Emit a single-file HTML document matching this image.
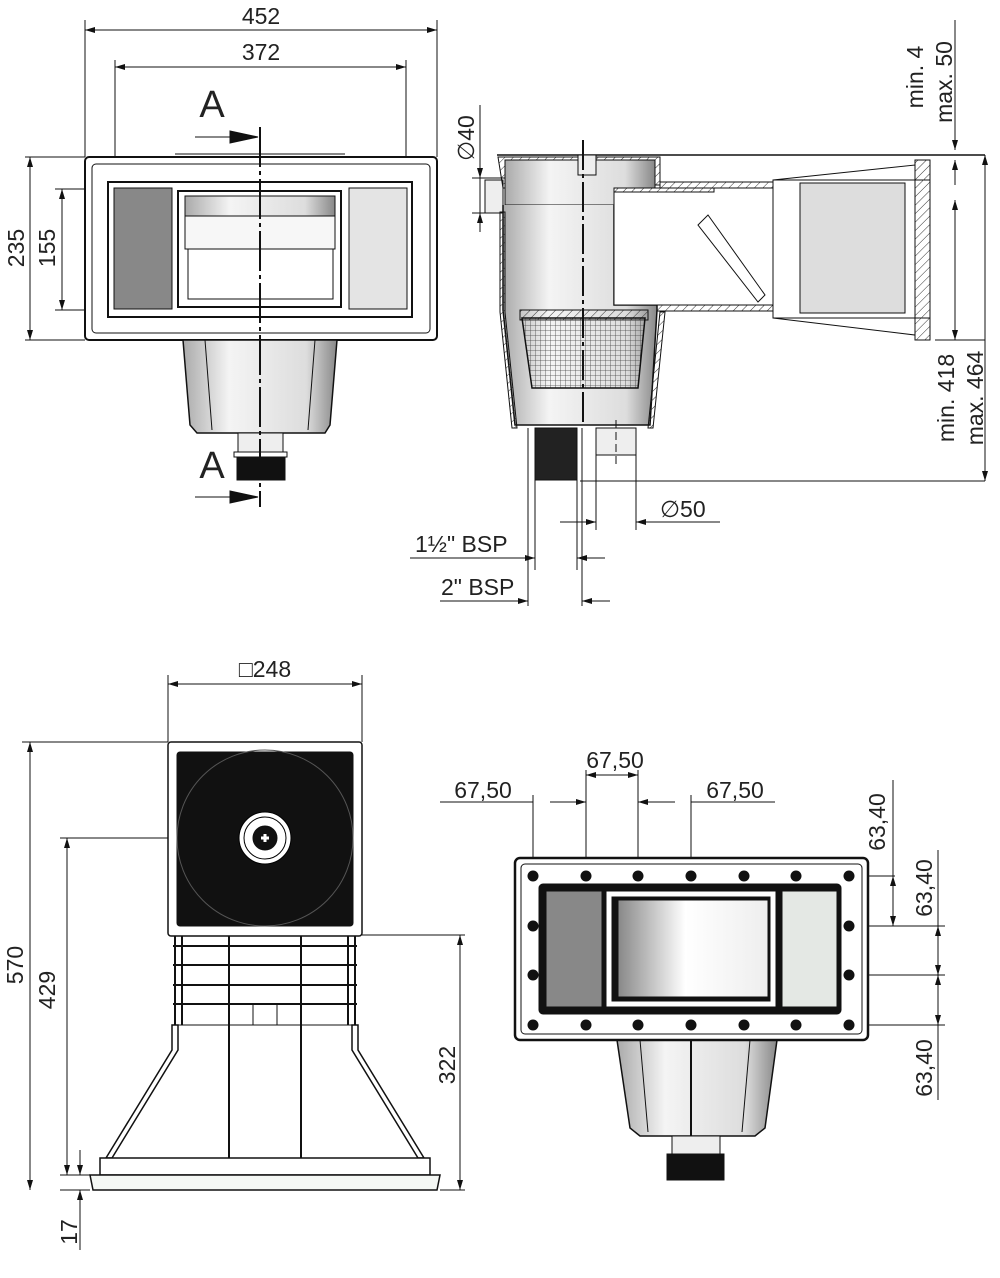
<!DOCTYPE html>
<html><head><meta charset="utf-8"><style>
html,body{margin:0;padding:0;background:#fff}
svg{display:block}
text{font-family:"Liberation Sans",sans-serif;fill:#222}
</style></head><body>
<svg width="1000" height="1278" viewBox="0 0 1000 1278" xmlns="http://www.w3.org/2000/svg">
<defs>
<marker id="a" viewBox="0 0 10 6" refX="10" refY="3" markerWidth="10" markerHeight="6" orient="auto-start-reverse" markerUnits="userSpaceOnUse"><path d="M0,0L10,3L0,6z" fill="#111"/></marker>
<linearGradient id="g" x1="0" x2="1"><stop offset="0" stop-color="#888"/><stop offset=".45" stop-color="#fff"/><stop offset="1" stop-color="#eee"/></linearGradient>
<linearGradient id="g2" x1="0" x2="1"><stop offset="0" stop-color="#aaa"/><stop offset=".3" stop-color="#f4f4f4"/><stop offset=".8" stop-color="#ddd"/><stop offset="1" stop-color="#888"/></linearGradient>
<pattern id="h" width="6" height="6" patternUnits="userSpaceOnUse" patternTransform="rotate(45)"><line x1="0" y1="0" x2="0" y2="6" stroke="#333" stroke-width="1"/></pattern>
<pattern id="m" width="5" height="5" patternUnits="userSpaceOnUse"><path d="M0,0H5M0,0V5" stroke="#444" stroke-width=".8" fill="none"/></pattern>
</defs>
<g stroke="#111" stroke-width="1" fill="none">
<line x1="85" y1="20" x2="85" y2="157"/><line x1="437" y1="20" x2="437" y2="157"/>
<line x1="85" y1="30" x2="437" y2="30" marker-start="url(#a)" marker-end="url(#a)"/>
<line x1="115" y1="60" x2="115" y2="185"/><line x1="406" y1="60" x2="406" y2="185"/>
<line x1="115" y1="67" x2="406" y2="67" marker-start="url(#a)" marker-end="url(#a)"/>
<line x1="25" y1="157" x2="85" y2="157"/><line x1="25" y1="340" x2="85" y2="340"/>
<line x1="30" y1="157" x2="30" y2="340" marker-start="url(#a)" marker-end="url(#a)"/>
<line x1="55" y1="189" x2="115" y2="189"/><line x1="55" y1="310" x2="115" y2="310"/>
<line x1="62" y1="189" x2="62" y2="310" marker-start="url(#a)" marker-end="url(#a)"/>
<rect x="85" y="157" width="352" height="183" rx="4" stroke-width="2" fill="#fff"/>
<rect x="92" y="164" width="338" height="169" rx="4"/>
<rect x="108" y="182" width="304" height="135" stroke-width="2"/>
<rect x="114" y="188" width="58" height="121" fill="#888"/>
<rect x="349" y="188" width="58" height="121" fill="#e4e4e4"/>
<rect x="178" y="191" width="163" height="116" stroke-width="2" fill="#fff"/>
<rect x="185" y="196" width="150" height="20" fill="url(#g2)"/>
<rect x="185" y="216" width="150" height="33" fill="#f7f7f7"/>
<rect x="188" y="249" width="145" height="50" fill="#fff"/>
<line x1="175" y1="154" x2="345" y2="154"/>
<path d="M183,340L337,340L330,425L325,433L197,433L190,425Z" fill="url(#g2)" stroke-width="1.5"/>
<line x1="205" y1="340" x2="212" y2="430"/><line x1="315" y1="340" x2="308" y2="430"/>
<rect x="238" y="433" width="45" height="20" fill="#eee"/>
<rect x="234" y="452" width="53" height="5" fill="#fff"/>
<rect x="237" y="457" width="48" height="23" fill="#111"/>
<line x1="260" y1="127" x2="260" y2="507" stroke-width="2" stroke-dasharray="40,4,4,4"/>
<line x1="195" y1="137" x2="258" y2="137"/><path d="M230,131L258,137L230,143Z" fill="#111"/>
<line x1="195" y1="497" x2="258" y2="497"/><path d="M230,491L258,497L230,503Z" fill="#111"/>
<line x1="497" y1="155" x2="985" y2="155" stroke-width="1.5"/>
<line x1="480" y1="105" x2="480" y2="232"/>
<line x1="472" y1="178" x2="505" y2="178"/><line x1="472" y1="213" x2="505" y2="213"/>
<line x1="480" y1="160" x2="480" y2="178" marker-end="url(#a)"/><line x1="480" y1="232" x2="480" y2="213" marker-end="url(#a)"/>
<rect x="485" y="180" width="18" height="33" fill="#eee"/>
<path d="M498,157H660V185H655V205H614V188H503Z" fill="url(#h)"/>
<rect x="505" y="160" width="150" height="45" fill="url(#g2)"/>
<rect x="578" y="155" width="18" height="20" fill="#eee"/>
<path d="M503,205V310L515,425H650L657,310V305H614V205" fill="url(#g2)" stroke-width="1.5"/>
<path d="M500,212V312L512,428H517L505,312V212Z" fill="url(#h)"/>
<path d="M660,312L648,428H653L665,312Z" fill="url(#h)"/>
<rect x="520" y="310" width="128" height="10" fill="url(#h)"/>
<path d="M522,318H645L638,388H532Z" fill="url(#m)" stroke-width="1.5"/>
<rect x="614" y="188" width="160" height="117" fill="#fff"/>
<rect x="614" y="188" width="100" height="4" fill="url(#h)"/>
<rect x="660" y="182" width="114" height="6" fill="url(#h)"/>
<rect x="657" y="305" width="117" height="6" fill="url(#h)"/>
<path d="M698,225L708,215L765,295L758,302Z" fill="#fff"/>
<rect x="773" y="180" width="157" height="138" fill="#fff"/>
<rect x="800" y="183" width="105" height="130" fill="#ddd"/>
<path d="M773,180L915,165V195M773,318L915,335V318" />
<rect x="915" y="160" width="15" height="180" fill="url(#h)"/>
<line x1="583" y1="140" x2="583" y2="425" stroke-width="2" stroke-dasharray="30,4,4,4"/>
<rect x="535" y="428" width="42" height="52" fill="#222"/>
<path d="M528,428V482M582,428V482"/>
<rect x="596" y="428" width="40" height="27" fill="#eee"/>
<line x1="616" y1="420" x2="616" y2="465" stroke-dasharray="8,4"/>
<line x1="580" y1="481" x2="985" y2="481"/>
<line x1="935" y1="340" x2="985" y2="340"/>
<line x1="955" y1="20" x2="955" y2="150" marker-end="url(#a)"/><line x1="955" y1="185" x2="955" y2="160" marker-end="url(#a)"/>
<line x1="955" y1="200" x2="955" y2="340" marker-start="url(#a)" marker-end="url(#a)"/>
<line x1="985" y1="155" x2="985" y2="481" marker-start="url(#a)" marker-end="url(#a)"/>
<line x1="596" y1="455" x2="596" y2="530"/><line x1="636" y1="455" x2="636" y2="530"/>
<line x1="560" y1="522" x2="596" y2="522" marker-end="url(#a)"/>
<line x1="636" y1="522" x2="720" y2="522" marker-start="url(#a)"/>
<line x1="535" y1="480" x2="535" y2="570"/><line x1="577" y1="480" x2="577" y2="570"/>
<line x1="410" y1="558" x2="535" y2="558" marker-end="url(#a)"/><line x1="577" y1="558" x2="605" y2="558" marker-start="url(#a)"/>
<line x1="528" y1="482" x2="528" y2="606"/><line x1="582" y1="482" x2="582" y2="606"/>
<line x1="440" y1="601" x2="528" y2="601" marker-end="url(#a)"/><line x1="582" y1="601" x2="610" y2="601" marker-start="url(#a)"/>
<line x1="168" y1="675" x2="168" y2="742"/><line x1="362" y1="675" x2="362" y2="742"/>
<line x1="168" y1="684" x2="362" y2="684" marker-start="url(#a)" marker-end="url(#a)"/>
<line x1="22" y1="742" x2="168" y2="742"/><line x1="30" y1="742" x2="30" y2="1190" marker-start="url(#a)" marker-end="url(#a)"/>
<line x1="60" y1="838" x2="180" y2="838"/><line x1="67" y1="838" x2="67" y2="1175" marker-start="url(#a)" marker-end="url(#a)"/>
<line x1="60" y1="1175" x2="100" y2="1175"/><line x1="60" y1="1190" x2="90" y2="1190"/>
<line x1="80" y1="1150" x2="80" y2="1175" marker-end="url(#a)"/><line x1="80" y1="1250" x2="80" y2="1190" marker-end="url(#a)"/>
<line x1="362" y1="935" x2="465" y2="935"/><line x1="440" y1="1190" x2="465" y2="1190"/>
<line x1="460" y1="935" x2="460" y2="1190" marker-start="url(#a)" marker-end="url(#a)"/>
<rect x="168" y="742" width="194" height="194" rx="3" fill="#fff" stroke-width="1.5"/>
<rect x="177" y="752" width="176" height="174" rx="3" fill="#111"/>
<circle cx="265" cy="838" r="88" stroke="#555" stroke-width="1" fill="none"/>
<circle cx="265" cy="838" r="26" fill="#fff" stroke="#000"/>
<circle cx="265" cy="838" r="21" fill="#fff" stroke="#000"/>
<circle cx="265" cy="838" r="12" fill="#111"/>
<path d="M261,838h8M265,834v8" stroke="#fff" stroke-width="3"/>
<g stroke-width="2"><line x1="173" y1="946" x2="357" y2="946"/><line x1="173" y1="965" x2="357" y2="965"/><line x1="173" y1="985" x2="357" y2="985"/><line x1="173" y1="1004" x2="357" y2="1004"/>
<line x1="229" y1="936" x2="229" y2="1158"/><line x1="301" y1="936" x2="301" y2="1158"/>
<line x1="175" y1="936" x2="175" y2="1025"/><line x1="182" y1="936" x2="182" y2="1025"/><line x1="348" y1="936" x2="348" y2="1025"/><line x1="355" y1="936" x2="355" y2="1025"/></g>
<line x1="173" y1="1025" x2="357" y2="1025"/>
<path d="M253,1005V1025M277,1005V1025"/>
<path d="M172,1025H178V1050L112,1158H106L172,1050Z" fill="#fff" stroke-width="1.5"/>
<path d="M358,1025H352V1050L418,1158H424L358,1050Z" fill="#fff" stroke-width="1.5"/>
<rect x="100" y="1158" width="330" height="17" fill="#fff" stroke-width="1.5"/>
<path d="M90,1175H440L437,1190H93Z" fill="#f4f7f4" stroke-width="1.5"/>
<g>
<line x1="533" y1="795" x2="533" y2="876"/><line x1="586" y1="770" x2="586" y2="876"/><line x1="638" y1="770" x2="638" y2="876"/><line x1="691" y1="795" x2="691" y2="876"/>
<line x1="440" y1="802" x2="533" y2="802"/>
<line x1="550" y1="802" x2="586" y2="802" marker-end="url(#a)"/>
<line x1="586" y1="775" x2="638" y2="775" marker-start="url(#a)" marker-end="url(#a)"/>
<line x1="638" y1="802" x2="675" y2="802" marker-start="url(#a)"/><line x1="691" y1="802" x2="775" y2="802"/>
<line x1="849" y1="876" x2="895" y2="876"/><line x1="849" y1="926" x2="945" y2="926"/><line x1="849" y1="975" x2="945" y2="975"/><line x1="849" y1="1025" x2="945" y2="1025"/>
<line x1="893" y1="780" x2="893" y2="876" /><line x1="893" y1="926" x2="893" y2="876" marker-start="url(#a)" marker-end="url(#a)"/>
<line x1="938" y1="850" x2="938" y2="926"/><line x1="938" y1="926" x2="938" y2="975" marker-start="url(#a)" marker-end="url(#a)"/>
<line x1="938" y1="975" x2="938" y2="1025" marker-start="url(#a)" marker-end="url(#a)"/><line x1="938" y1="1025" x2="938" y2="1100"/>
</g>
<path d="M617,1040L777,1040L765,1128L755,1136H640L630,1128Z" fill="url(#g2)" stroke-width="1.5"/>
<line x1="640" y1="1040" x2="648" y2="1132"/><line x1="750" y1="1040" x2="742" y2="1132"/><line x1="691" y1="1040" x2="691" y2="1136" stroke-width="2"/>
<rect x="672" y="1136" width="48" height="18" fill="#eee"/>
<rect x="667" y="1154" width="57" height="26" fill="#111"/>
<rect x="515" y="858" width="353" height="182" rx="5" fill="#fff" stroke-width="2.5"/>
<rect x="521" y="864" width="341" height="170" rx="4"/>
<rect x="540" y="885" width="300" height="128" rx="3" stroke-width="3" fill="#111"/>
<rect x="546" y="891" width="56" height="116" fill="#888"/>
<rect x="782" y="891" width="55" height="116" fill="#e4e8e4"/>
<rect x="606" y="891" width="170" height="116" fill="#fff"/>
<rect x="612" y="897" width="158" height="104" fill="#111"/>
<rect x="618" y="900" width="150" height="97" fill="url(#g)"/>
<g fill="#111" stroke="none">
<circle cx="533" cy="876" r="5.5"/><circle cx="586" cy="876" r="5.5"/><circle cx="638" cy="876" r="5.5"/><circle cx="691" cy="876" r="5.5"/><circle cx="744" cy="876" r="5.5"/><circle cx="796" cy="876" r="5.5"/><circle cx="849" cy="876" r="5.5"/>
<circle cx="533" cy="1025" r="5.5"/><circle cx="586" cy="1025" r="5.5"/><circle cx="638" cy="1025" r="5.5"/><circle cx="691" cy="1025" r="5.5"/><circle cx="744" cy="1025" r="5.5"/><circle cx="796" cy="1025" r="5.5"/><circle cx="849" cy="1025" r="5.5"/>
<circle cx="533" cy="926" r="5.5"/><circle cx="533" cy="975" r="5.5"/><circle cx="849" cy="926" r="5.5"/><circle cx="849" cy="975" r="5.5"/>
</g>
</g>
<g font-size="23">
<text x="261" y="24" text-anchor="middle">452</text>
<text x="261" y="60" text-anchor="middle">372</text>
<text x="212" y="117" text-anchor="middle" font-size="38">A</text>
<text x="212" y="478" text-anchor="middle" font-size="38">A</text>
<text transform="translate(24,248) rotate(-90)" text-anchor="middle">235</text>
<text transform="translate(55,248) rotate(-90)" text-anchor="middle">155</text>
<text transform="translate(474,138) rotate(-90)" text-anchor="middle">∅40</text>
<text transform="translate(923,77) rotate(-90)" text-anchor="middle">min. 4</text>
<text transform="translate(952,82) rotate(-90)" text-anchor="middle">max. 50</text>
<text transform="translate(954,398) rotate(-90)" text-anchor="middle">min. 418</text>
<text transform="translate(983,398) rotate(-90)" text-anchor="middle">max. 464</text>
<text x="660" y="517">∅50</text>
<text x="415" y="552">1½" BSP</text>
<text x="441" y="595">2" BSP</text>
<text x="265" y="677" text-anchor="middle">□248</text>
<text transform="translate(23,965) rotate(-90)" text-anchor="middle">570</text>
<text transform="translate(55,990) rotate(-90)" text-anchor="middle">429</text>
<text transform="translate(77,1232) rotate(-90)" text-anchor="middle">17</text>
<text transform="translate(455,1065) rotate(-90)" text-anchor="middle">322</text>
<text x="483" y="798" text-anchor="middle">67,50</text>
<text x="615" y="768" text-anchor="middle">67,50</text>
<text x="735" y="798" text-anchor="middle">67,50</text>
<text transform="translate(885,822) rotate(-90)" text-anchor="middle">63,40</text>
<text transform="translate(932,888) rotate(-90)" text-anchor="middle">63,40</text>
<text transform="translate(932,1068) rotate(-90)" text-anchor="middle">63,40</text>
</g>
</svg>
</body></html>
